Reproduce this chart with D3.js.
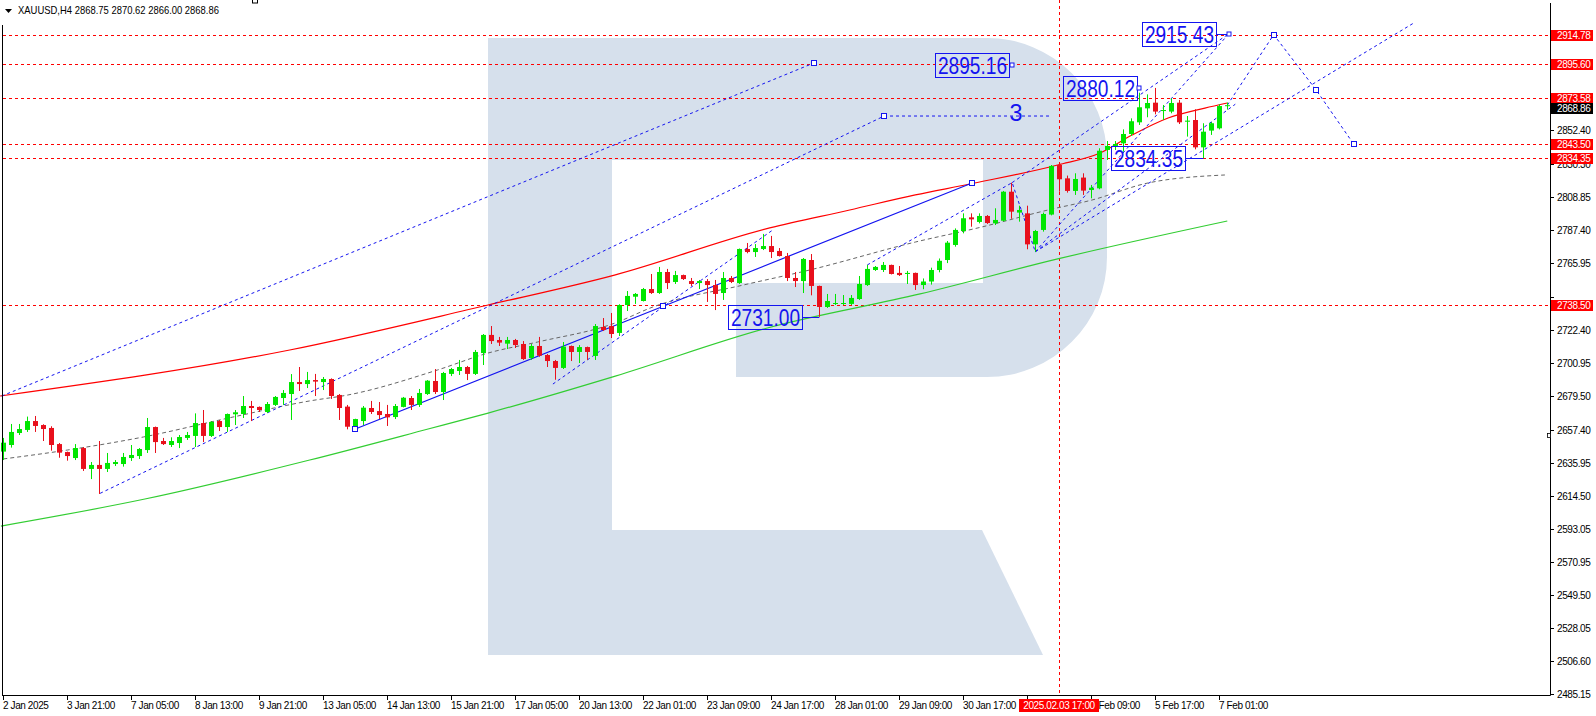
<!DOCTYPE html>
<html><head><meta charset="utf-8">
<script src="https://cdn.jsdelivr.net/npm/d3@7"></script>
<style>
body{margin:0;background:#fff;}
svg{display:block;}
text{font-family:"Liberation Sans",Arial,sans-serif;}
</style>
</head><body>
<svg id="c" width="1596" height="716"></svg>
<script>
// ---------------- DATA ----------------
const opens=[2643.2,2647.5,2655.3,2657.3,2663.1,2660.5,2658.6,2648.1,2642.9,2639.0,2645.5,2631.9,2634.5,2631.9,2635.1,2635.1,2639.0,2640.3,2644.2,2659.2,
2650.1,2647.5,2648.8,2652.1,2653.4,2661.8,2653.4,2663.1,2659.2,2667.5,2667.7,2672.9,2672.3,2669.0,2673.6,2678.1,2680.7,2688.5,2687.2,2689.8,
2688.5,2690.5,2680.1,2672.5,2659.0,2663.1,2671.6,2669.6,2667.7,2665.7,2672.3,2678.1,2673.6,2680.7,2689.2,2682.0,2693.8,2695.7,2698.3,2693.8,
2707.4,2719.2,2715.9,2713.5,2715.9,2713.3,2704.2,2712.0,2706.1,2702.2,2697.7,2712.0,2708.1,2711.3,2705.5,2724.4,2725.0,2720.5,2738.7,2744.1,
2741.3,2749.1,2746.5,2760.2,2753.7,2758.2,2754.3,2753.0,2754.3,2751.7,2746.5,2756.3,2753.0,2775.2,2773.2,2775.2,2777.1,2773.9,2770.6,2756.3,
2754.3,2768.0,2751.1,2737.4,2739.4,2739.4,2739.4,2742.6,2751.7,2761.5,2761.5,2764.8,2759.6,2758.9,2759.6,2751.7,2754.0,2761.5,2768.0,2777.8,
2786.9,2795.8,2792.8,2796.7,2791.9,2793.6,2812.5,2798.9,2798.4,2778.2,2787.6,2797.6,2829.9,2821.2,2813.0,2821.7,2813.6,2814.7,2839.7,2842.3,
2844.0,2850.1,2857.7,2866.8,2870.5,2865.1,2864.7,2870.5,2858.1,2859.2,2841.4,2852.3,2853.8,2868.75];
const highs=[2652.1,2661.2,2661.2,2666.0,2666.4,2661.0,2659.7,2648.8,2643.2,2648.1,2646.2,2636.4,2650.1,2642.3,2637.7,2642.3,2647.5,2645.5,2665.1,2659.5,
2652.1,2652.5,2654.0,2656.0,2668.1,2670.3,2663.1,2663.8,2668.0,2670.3,2679.4,2676.2,2672.6,2675.5,2679.4,2683.3,2693.7,2698.3,2695.1,2693.8,
2691.8,2690.9,2680.7,2673.6,2664.6,2672.9,2676.2,2675.5,2673.6,2674.2,2678.8,2679.4,2684.0,2689.8,2697.0,2695.1,2697.7,2702.9,2699.0,2709.4,
2719.8,2725.0,2717.9,2717.9,2716.6,2715.2,2713.3,2717.9,2706.8,2702.9,2714.6,2712.3,2712.6,2711.6,2726.3,2730.2,2733.5,2739.2,2747.8,2746.5,
2749.8,2758.9,2763.5,2762.2,2760.9,2758.5,2756.3,2755.0,2755.6,2755.0,2760.2,2757.6,2775.5,2779.1,2778.4,2785.0,2783.7,2775.8,2772.6,2760.2,
2769.3,2771.9,2751.3,2745.9,2745.9,2745.2,2745.2,2757.6,2764.8,2764.1,2766.7,2765.0,2764.1,2760.9,2759.8,2756.0,2763.0,2769.0,2780.4,2788.6,
2798.4,2798.4,2798.4,2797.3,2801.7,2813.0,2818.4,2803.4,2803.4,2787.6,2798.9,2829.9,2830.6,2823.0,2824.5,2824.5,2816.9,2840.8,2845.5,2845.5,
2853.1,2860.3,2877.0,2875.9,2880.1,2869.0,2873.3,2872.3,2861.8,2866.2,2857.1,2857.9,2869.4,2870.62];
const lows=[2637.7,2645.8,2654.0,2656.0,2656.0,2650.1,2643.8,2639.2,2637.3,2637.7,2630.6,2625.3,2615.6,2629.9,2633.8,2633.4,2637.1,2638.4,2642.3,2642.3,
2647.5,2646.2,2645.5,2650.8,2646.2,2649.4,2652.7,2656.6,2656.0,2660.5,2665.1,2663.1,2669.0,2668.3,2672.9,2673.6,2663.8,2682.7,2684.6,2679.4,
2683.3,2677.5,2663.8,2657.7,2657.7,2660.5,2667.7,2664.4,2659.9,2664.4,2672.0,2670.3,2672.3,2680.1,2680.7,2676.8,2692.4,2693.1,2689.8,2693.1,
2699.6,2713.3,2712.0,2710.0,2710.7,2702.9,2702.9,2705.0,2698.3,2690.0,2697.0,2702.2,2700.9,2702.9,2702.9,2721.8,2717.2,2718.5,2734.8,2739.4,
2741.0,2745.9,2745.9,2749.1,2752.4,2755.0,2751.1,2749.1,2740.7,2735.4,2742.0,2753.0,2752.4,2772.4,2770.0,2774.5,2769.3,2770.3,2754.3,2750.4,
2746.5,2745.0,2731.0,2736.8,2738.7,2738.7,2738.7,2742.0,2751.1,2760.9,2760.2,2758.6,2757.6,2752.4,2748.5,2749.0,2752.0,2760.0,2766.0,2776.7,
2785.4,2789.7,2791.9,2791.5,2790.8,2793.2,2794.9,2793.0,2775.0,2773.4,2786.5,2797.1,2812.5,2811.9,2810.4,2810.4,2808.2,2814.1,2833.2,2839.7,
2838.6,2848.8,2856.0,2861.0,2862.9,2859.2,2863.6,2856.6,2848.4,2840.1,2834.35,2849.5,2853.1,2866.0];
const closes=[2649.0,2656.0,2657.9,2663.1,2659.9,2657.9,2647.5,2642.5,2640.3,2645.5,2631.9,2634.5,2631.9,2635.8,2636.4,2639.7,2641.0,2644.9,2659.2,2649.4,
2648.1,2650.1,2652.7,2654.0,2661.8,2653.4,2662.5,2659.2,2667.7,2668.8,2672.9,2671.6,2670.3,2674.2,2678.8,2681.4,2688.5,2687.2,2689.8,2688.8,
2690.5,2679.4,2671.6,2659.4,2664.4,2671.8,2669.0,2667.0,2665.5,2672.9,2678.3,2673.6,2681.4,2689.4,2682.0,2694.4,2697.0,2698.3,2693.8,2708.1,
2719.2,2715.2,2714.2,2715.9,2712.6,2703.5,2712.0,2705.7,2702.2,2697.7,2711.6,2708.1,2711.3,2708.1,2725.0,2722.4,2719.8,2738.7,2744.6,2745.9,
2749.1,2746.5,2760.2,2753.0,2758.2,2755.6,2752.4,2754.3,2751.7,2745.9,2756.3,2753.7,2775.2,2773.2,2775.8,2777.1,2773.2,2770.6,2756.3,2754.3,
2768.7,2751.1,2737.4,2741.3,2740.0,2740.0,2743.3,2752.4,2762.2,2763.5,2764.8,2758.9,2758.2,2759.6,2751.7,2754.0,2761.5,2767.5,2779.3,2787.6,
2795.2,2794.5,2796.7,2792.1,2794.1,2812.5,2799.5,2800.6,2778.2,2786.9,2798.0,2829.3,2820.6,2813.0,2820.8,2813.2,2815.1,2839.2,2842.3,2843.6,
2850.1,2858.4,2867.5,2870.3,2864.7,2865.7,2870.3,2857.7,2858.8,2841.4,2851.6,2857.1,2868.3,2868.86];

const timeTickIdx=[0,8,16,24,32,40,48,56,64,72,80,88,96,104,112,120,128,136,144,152];
const timeTickLabels=["2 Jan 2025","3 Jan 21:00","7 Jan 05:00","8 Jan 13:00","9 Jan 21:00","13 Jan 05:00","14 Jan 13:00","15 Jan 21:00","17 Jan 05:00","20 Jan 13:00",
"22 Jan 01:00","23 Jan 09:00","24 Jan 17:00","28 Jan 01:00","29 Jan 09:00","30 Jan 17:00","3 Feb 01:00","4 Feb 09:00","5 Feb 17:00","7 Feb 01:00"];
const priceTicks=[2852.40,2830.30,2808.85,2787.40,2765.95,2743.85,2722.40,2700.95,2679.50,2657.40,2635.95,2614.50,2593.05,2570.95,2549.50,2528.05,2506.60,2485.15];
const levelPrices=[2914.78,2895.60,2873.58,2843.50,2834.35,2738.50];
const lastPrice=2868.86;
const markerBarIdx=132, markerLabel="2025.02.03 17:00";
const titleText="XAUUSD,H4  2868.75 2870.62 2866.00 2868.86";

// moving averages (knots: bar index, price)
const redMaIdx=[-0.4,35.8,60.6,76.4,95.8,105.8,114,120.8,131.8,137.1,141.1,145.6,150.2,153];
const redMaVal=[2679.4,2709.4,2738.7,2758.2,2788.9,2800.6,2810.4,2817.5,2829.9,2837.7,2849.4,2860.5,2867.0,2870.3];
const greenMaIdx=[-0.3,17.7,38.3,53.1,60.6,76.5,95.5,114.6,131.8,153];
const greenMaVal=[2594.7,2612.3,2637.7,2657.9,2668.3,2692.4,2723.7,2745.9,2768.7,2793.4];
const grayMaIdx=[0,8,17.5,28.7,38.3,43.1,54.3,60.6,66.8,76.5,81.2,92.5,100.8,114,122.3,130.6,136.1,143.1,152.7];
const grayMaVal=[2638.4,2644.2,2652.7,2665.7,2676.2,2680.1,2696.4,2707.4,2714.6,2727.0,2737.4,2751.7,2761.5,2779.7,2789.5,2800.6,2807.1,2818.2,2823.4];

// analyst drawings (bar index, price)
const solidTrend=[[44,2657.9],[82.5,2737.9],[121.1,2818.2]];
const dashedTrends=[
  [[-0.2,2679.4],[101.3,2896.3]],
  [[12.1,2616.0],[110.1,2861.8],[130.8,2861.8]],
  [[68.7,2687.2],[96.2,2787.6]],
  [[108,2764.8],[126.1,2818.4],[129,2773.4]],
  [[129,2773.4],[153.2,2915.43]],
  [[126.1,2818.4],[153.2,2915.43]],
  [[129,2773.4],[154,2869.5]],
  [[129,2773.4],[176.5,2923.0]],
  [[153,2868.9],[158.8,2914.78],[164.1,2878.8],[168.8,2843.5]]
];
const markerPts=[[101.3,2896.3],[110.1,2861.8],[44,2657.9],[82.5,2737.9],[121.1,2818.2],[158.8,2914.78],[164.1,2878.8],[168.8,2843.5]];
const priceTags=[
  {t:"2895.16",i:126.1,p:2895.16,gap:3,sq:true},
  {t:"2880.12",i:142.0,p:2880.12,gap:2,sq:true},
  {t:"2834.35",i:150,p:2834.35,gap:18,sq:false},
  {t:"2731.00",i:102,p:2731.00,gap:17,sq:false},
  {t:"2915.43",i:153.2,p:2915.43,gap:13,sq:true}
];
const waveLabel={t:"3",i:126.6,p:2861.8};

// ---------------- SCALES ----------------
const svg=d3.select("#c");
const x=d3.scaleLinear().domain([0,153]).range([3.3,1227.3]);
const y=d3.scaleLinear().domain([2738.5,2914.78]).range([305.3,34.7]);
const AX=1550, BOT=695;
const BLUE="#1414f0", WM="#d6e0ec";

// ---------------- WATERMARK ----------------
const wm=svg.append("g").attr("fill",WM);
wm.append("rect").attr("x",488).attr("y",38).attr("width",124).attr("height",617);
wm.append("path").attr("d","M612,38 H987 A120,120 0 0 1 1107,158 V257 A120,120 0 0 1 987,377 H736 V283 H983 V160 H612 Z");
wm.append("path").attr("d","M612,530 H982 L1043,655 H612 Z");

const plot=svg.append("g");
// level lines
plot.selectAll("line.lvl").data(levelPrices).join("line")
  .attr("x1",3).attr("x2",AX).attr("y1",d=>Math.round(y(d))+0.5).attr("y2",d=>Math.round(y(d))+0.5)
  .attr("stroke","#ff0000").attr("stroke-dasharray","3,3");
plot.append("line").attr("x1",Math.round(x(markerBarIdx))+0.5).attr("x2",Math.round(x(markerBarIdx))+0.5)
  .attr("y1",0).attr("y2",BOT).attr("stroke","#ff0000").attr("stroke-dasharray","3,3");

// MAs
const ln=d3.line().x(d=>x(d[0])).y(d=>y(d[1])).curve(d3.curveMonotoneX);
const zip=(a,b)=>a.map((v,k)=>[v,b[k]]);
plot.append("path").attr("d",ln(zip(greenMaIdx,greenMaVal))).attr("fill","none").attr("stroke","#32cd32").attr("stroke-width",1.2);
plot.append("path").attr("d",ln(zip(grayMaIdx,grayMaVal))).attr("fill","none").attr("stroke","#666").attr("stroke-dasharray","4,3");
plot.append("path").attr("d",ln(zip(redMaIdx,redMaVal))).attr("fill","none").attr("stroke","#ff0000").attr("stroke-width",1.2);

// drawings
const sl=d3.line().x(d=>x(d[0])).y(d=>y(d[1]));
plot.selectAll("path.dt").data(dashedTrends).join("path").attr("d",sl).attr("fill","none")
  .attr("stroke",BLUE).attr("stroke-dasharray","3,3");
plot.append("path").attr("d",sl(solidTrend)).attr("fill","none").attr("stroke",BLUE).attr("stroke-width",1.2);

// candles
const bars=d3.range(opens.length).map(i=>({i,o:opens[i],h:highs[i],l:lows[i],c:closes[i]}));
const cg=plot.append("g");
bars.forEach(b=>{
  const cx=Math.round(x(b.i));
  const col=b.c>=b.o?"#00e600":"#e8101c";
  cg.append("rect").attr("x",cx).attr("width",1).attr("y",y(b.h)).attr("height",Math.max(1,y(b.l)-y(b.h))).attr("fill",col);
  const top=y(Math.max(b.o,b.c)), bt=y(Math.min(b.o,b.c));
  cg.append("rect").attr("x",cx-2).attr("width",5).attr("y",top).attr("height",Math.max(1,bt-top)).attr("fill",col);
});

// markers
plot.selectAll("rect.mk").data(markerPts).join("rect")
  .attr("x",d=>Math.round(x(d[0]))-2.5).attr("y",d=>Math.round(y(d[1]))-2.5).attr("width",5).attr("height",5)
  .attr("fill","#fff").attr("stroke",BLUE);

// price tags
const tg=plot.append("g");
priceTags.forEach(d=>{
  const ax=x(d.i), ay=Math.round(y(d.p));
  const w=74,h=24, bx=Math.round(ax-d.gap-w);
  tg.append("line").attr("x1",bx+w).attr("x2",ax).attr("y1",ay+0.5).attr("y2",ay+0.5).attr("stroke",BLUE);
  tg.append("rect").attr("x",bx+0.5).attr("y",ay-h/2+0.5).attr("width",w).attr("height",h).attr("fill","none").attr("stroke",BLUE);
  tg.append("text").attr("x",bx+3).attr("y",ay+9).attr("font-size",23).attr("fill",BLUE)
    .attr("textLength",69).attr("lengthAdjust","spacingAndGlyphs").text(d.t);
  if(d.sq) tg.append("rect").attr("x",Math.round(ax)-2).attr("y",ay-2).attr("width",4).attr("height",4).attr("fill","#fff").attr("stroke",BLUE);
});
tg.append("text").attr("x",x(waveLabel.i)).attr("y",y(waveLabel.p)+5).attr("font-size",23).attr("fill",BLUE)
  .attr("text-anchor","middle").attr("textLength",13).attr("lengthAdjust","spacingAndGlyphs").text(waveLabel.t);

// ---------------- FRAME & AXES ----------------
svg.append("rect").attr("x",AX+1).attr("y",0).attr("width",1596-AX-1).attr("height",716).attr("fill","#fff");
svg.append("rect").attr("x",0).attr("y",BOT+1).attr("width",1596).attr("height",716-BOT).attr("fill","#fff");
svg.append("line").attr("x1",AX+0.5).attr("x2",AX+0.5).attr("y1",3).attr("y2",BOT+0.5).attr("stroke","#000");
svg.append("line").attr("x1",2).attr("x2",AX+0.5).attr("y1",BOT+0.5).attr("y2",BOT+0.5).attr("stroke","#000");
svg.append("line").attr("x1",2.5).attr("x2",2.5).attr("y1",25).attr("y2",BOT+0.5).attr("stroke","#000");

// right axis
const ra=svg.append("g").attr("font-size",10).attr("letter-spacing","-0.4");
const levelYs=levelPrices.map(p=>Math.round(y(p)));
priceTicks.forEach(p=>{
  const yy=Math.round(y(p));
  ra.append("line").attr("x1",AX).attr("x2",AX+4).attr("y1",yy+0.5).attr("y2",yy+0.5).attr("stroke","#000");
  // label partially hidden under a level tag: show only the part that peeks out below it
  const hid=levelYs.find(ly=>Math.abs(ly-yy)<9);
  const t=ra.append("text").attr("x",AX+7).attr("y",yy+3.5).attr("fill","#000").text(p.toFixed(2));
  if(hid!==undefined){
    const cid="clip"+Math.round(p*100);
    svg.append("clipPath").attr("id",cid).append("rect").attr("x",AX).attr("y",hid+6).attr("width",50).attr("height",10);
    t.attr("clip-path","url(#"+cid+")");
  }
});
levelPrices.forEach(p=>{
  const yy=Math.round(y(p));
  ra.append("rect").attr("x",AX+1).attr("y",yy-5).attr("width",42).attr("height",11).attr("fill","#ff0000");
  ra.append("text").attr("x",AX+7).attr("y",yy+4).attr("fill","#fff").text(p.toFixed(2));
});
{
  let yy=y(lastPrice); const above=y(2873.58);
  if(yy-above<10.5) yy=above+10.5;
  yy=Math.round(yy);
  ra.append("rect").attr("x",AX+1).attr("y",yy-5).attr("width",42).attr("height",11).attr("fill","#000");
  ra.append("text").attr("x",AX+7).attr("y",yy+4).attr("fill","#fff").text(lastPrice.toFixed(2));
}
svg.append("rect").attr("x",AX-2.5).attr("y",433.5).attr("width",3).attr("height",4).attr("fill","#fff").attr("stroke","#000").attr("stroke-width",0.8);

// bottom axis
const ba=svg.append("g").attr("font-size",10).attr("letter-spacing","-0.4");
const mx=Math.round(x(markerBarIdx));
timeTickIdx.forEach((ix,k)=>{
  const xx=Math.round(x(ix));
  ba.append("line").attr("x1",xx+0.5).attr("x2",xx+0.5).attr("y1",BOT).attr("y2",BOT+5).attr("stroke","#000");
  // a label that lies completely under the red time tag is not visible
  if(xx>=mx-40 && xx+50<=mx+40) return;
  ba.append("text").attr("x",xx).attr("y",709).attr("fill","#000").text(timeTickLabels[k]);
});
ba.append("rect").attr("x",mx-40).attr("y",699).attr("width",80).attr("height",13).attr("fill","#ff0000");
ba.append("text").attr("x",mx).attr("y",709).attr("text-anchor","middle").attr("fill","#fff").text(markerLabel);

// title
svg.append("rect").attr("x",0).attr("y",0).attr("width",232).attr("height",20).attr("fill","#fff");
svg.append("path").attr("d","M5,9 L12,9 L8.5,13 Z").attr("fill","#000");
svg.append("text").attr("x",18).attr("y",14).attr("font-size",11.5).attr("fill","#000")
  .attr("textLength",201).attr("lengthAdjust","spacingAndGlyphs").text(titleText);
svg.append("rect").attr("x",252.5).attr("y",-1).attr("width",5).attr("height",4).attr("fill","#fff").attr("stroke","#000");
</script>
</body></html>
